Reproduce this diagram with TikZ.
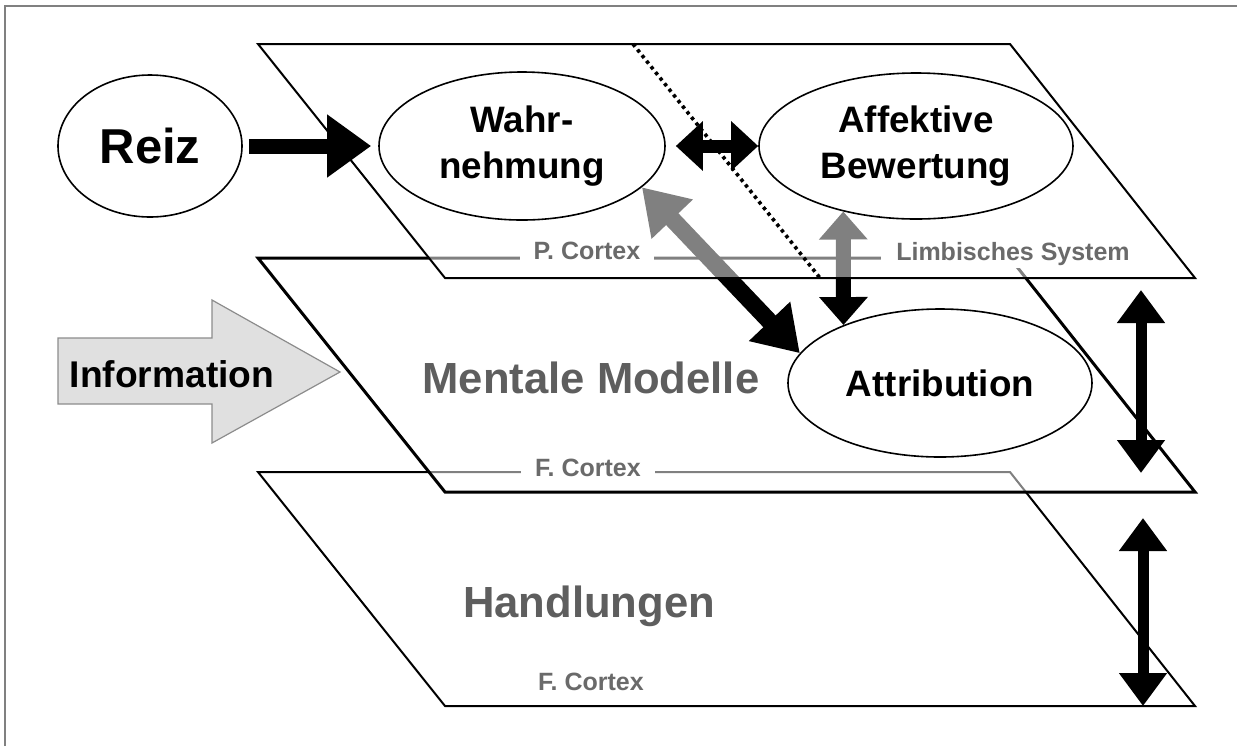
\documentclass[tikz,border=0pt]{standalone}
\usepackage{fontspec}
\setmainfont{Liberation Sans}
\usetikzlibrary{arrows.meta,shapes.geometric}

% drawing planes, back to front
\pgfdeclarelayer{planeC}
\pgfdeclarelayer{planeB}
\pgfdeclarelayer{links}
\pgfdeclarelayer{planeA}
\pgfsetlayers{planeC,planeB,links,planeA,main}

\definecolor{labelgray}{HTML}{6A6A6A}
\definecolor{titlegray}{HTML}{5E5E5E}
\definecolor{framegray}{HTML}{808080}
\definecolor{infofill}{HTML}{E0E0E0}
\definecolor{infoedge}{HTML}{8C8C8C}

\tikzset{
  slab/.style={fill=white, line join=miter},
  glass/.style={fill=white, fill opacity=0.5, line join=miter},
  bubble/.style={ellipse, draw=black, line width=0.8pt, fill=white, inner sep=0pt,
    align=center, font=\bfseries\fontsize{18.4}{23}\selectfont},
  cortexlabel/.style={font=\bfseries\fontsize{12.5}{15}\selectfont, text=labelgray,
    fill=white, inner xsep=7pt, inner ysep=1.5pt, anchor=base},
  planetitle/.style={font=\bfseries\fontsize{21.8}{26}\selectfont, text=titlegray, anchor=base},
  bigarrow/.style={line width=7.5pt, -{Triangle[length=22pt,width=30pt]}},
  pairarrow/.style={line width=6.5pt, {Triangle[length=13.5pt,width=24pt]}-{Triangle[length=13.5pt,width=24pt]}},
  diagarrow/.style={line width=8.5pt, {Triangle[length=22pt,width=27pt]}-{Triangle[length=22pt,width=27pt]}},
  vertarrow/.style={line width=7.5pt, {Triangle[length=14pt,width=23.5pt]}-{Triangle[length=14pt,width=23.5pt]}},
  sidearrow/.style={line width=5.5pt, {Triangle[length=16.5pt,width=23pt]}-{Triangle[length=16.5pt,width=23pt]}},
  infoarrow/.style={fill=infofill, draw=infoedge, line width=0.6pt, line join=miter},
  dotline/.style={line width=1.8pt, dash pattern=on 1.7pt off 1.9pt},
}

\begin{document}
\begin{tikzpicture}[x=0.5pt,y=-0.5pt]
\useasboundingbox (0,0) rectangle (1237,746);

% ---------------- lowest plane: Handlungen ----------------
\begin{pgfonlayer}{planeC}
  \draw[framegray, line width=1pt] (5,746) -- (5,5.5) -- (1237,5.5);
  \draw[slab, line width=1pt] (258,472) -- (1010,472) -- (1195,706) -- (445,706) -- cycle;
  \node[planetitle] (handl) at (589,617) {Handlungen};
  \node[cortexlabel, fill=none] (fcortexC) at (591,690) {F. Cortex};
  \coordinate (r2a) at (1143,518);
  \coordinate (r2b) at (1143,706);
  \draw[sidearrow] (r2a) -- (r2b);
\end{pgfonlayer}

% ---------------- middle plane: Mentale Modelle ----------------
\begin{pgfonlayer}{planeB}
  \draw[glass, line width=1.5pt] (258,258) -- (1010,258) -- (1195,492) -- (445,492) -- cycle;
  \node[cortexlabel] (fcortexB) at (588,476) {F. Cortex};
  \node[planetitle] (mental) at (591,393) {Mentale Modelle};
  \node[bubble, minimum width=152pt, minimum height=74pt] (attr) at (940,383) {Attribution};
  \coordinate (r1a) at (1141,290);
  \coordinate (r1b) at (1141,473);
  \draw[sidearrow] (r1a) -- (r1b);
  \draw[infoarrow] (58,338) -- (212,338) -- (212,300) -- (340,372)
                   -- (212,443) -- (212,404) -- (58,404) -- cycle;
  \node[anchor=base, font=\bfseries\fontsize{18.6}{22}\selectfont] (info) at (172,387) {Information};
\end{pgfonlayer}

% ---------------- upper plane: perception ----------------
\node[bubble, minimum width=92pt, minimum height=71pt,
      font=\bfseries\fontsize{24.5}{29}\selectfont] (reiz) at (150,146) {Reiz};
\node[bubble, minimum width=143pt, minimum height=74pt] (wahr) at (522,146) {Wahr-\\nehmung};
\node[bubble, minimum width=157pt, minimum height=73pt] (aff) at (916,146) {Affektive\\Bewertung};

\begin{pgfonlayer}{links}
  \draw[diagarrow] (wahr.-19) -- (attr.168);
  \draw[vertarrow] (aff.-138) -- (attr.149);
\end{pgfonlayer}

\begin{pgfonlayer}{planeA}
  \draw[glass, line width=1pt] (258,44) -- (1010,44) -- (1195,278) -- (445,278) -- cycle;
  \node[cortexlabel] (pcortex) at (587,259) {P. Cortex};
  \node[cortexlabel, inner xsep=7.5pt] (limbic) at (1013,260) {Limbisches System};
  \coordinate (split1) at (633,44);
  \coordinate (split2) at (820,278);
  \draw[dotline] (split1) -- (split2);
\end{pgfonlayer}

\draw[bigarrow, shorten <=3pt, shorten >=3.5pt] (reiz) -- (wahr);
\draw[pairarrow, shorten <=5pt] (wahr) -- (aff);
\end{tikzpicture}
\end{document}
